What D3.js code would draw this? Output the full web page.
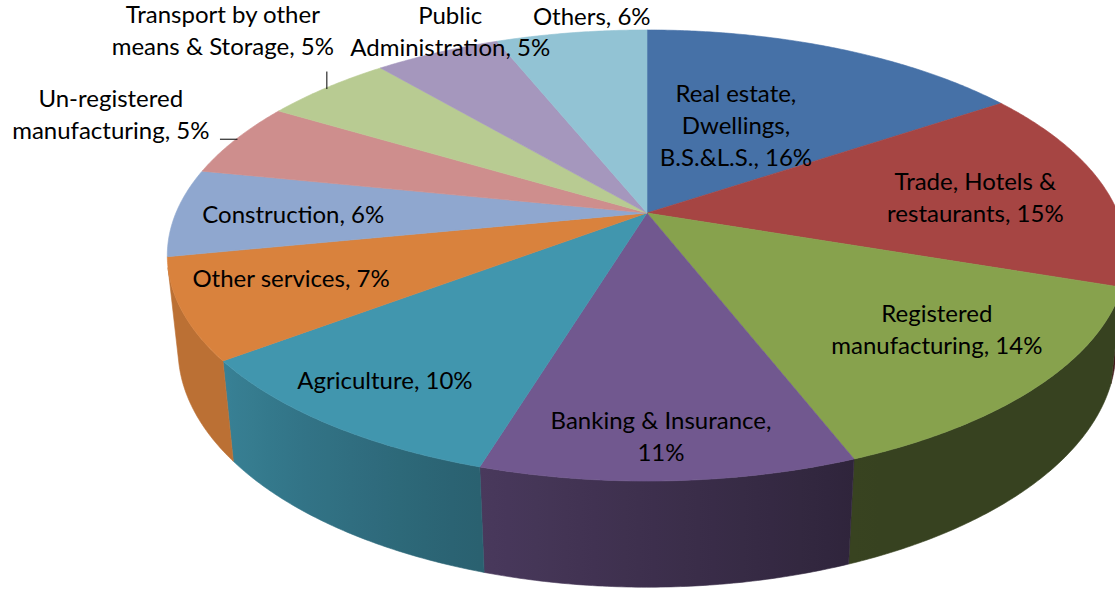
<!DOCTYPE html>
<html>
<head>
<meta charset="utf-8">
<script src="https://cdn.jsdelivr.net/npm/d3@7"></script>
<style>
  html, body { margin: 0; padding: 0; background: #ffffff; }
  svg { display: block; }
</style>
</head>
<body>
<svg id="chart" width="1115" height="591"></svg>
<script>
// GDP composition by sector (share of total, %)
const categories = [
  "Real estate, Dwellings, B.S.&L.S.",
  "Trade, Hotels & restaurants",
  "Registered manufacturing",
  "Banking & Insurance",
  "Agriculture",
  "Other services",
  "Construction",
  "Un-registered manufacturing",
  "Transport by other means & Storage",
  "Public Administration",
  "Others"
];
const shares = [15.6, 14.6, 13.9, 10.6, 10.0, 7.2, 6.3, 5.4, 5.2, 5.1, 6.1];

// label text, one entry per line; the share is appended to the last line
const labelLines = [
  ["Real estate,", "Dwellings,", "B.S.&L.S.,"],
  ["Trade, Hotels &", "restaurants,"],
  ["Registered", "manufacturing,"],
  ["Banking & Insurance,", ""],
  ["Agriculture,"],
  ["Other services,"],
  ["Construction,"],
  ["Un-registered", "manufacturing,"],
  ["Transport by other", "means & Storage,"],
  ["Public", "Administration,"],
  ["Others,"]
];

const topColors = ["#4671A7", "#A64543", "#87A24D", "#71588F", "#4196AE", "#D9823D",
                   "#8FA7CF", "#CE8E8D", "#B8CB92", "#A597BD", "#92C3D4"];

// label placement on the pie plane: radius (1 = rim) and angular nudge (deg)
const labelPlacement = [
  [0.48, -2.9], [0.71, 1.8], [0.74, -2.8], [0.86, 0.5], [0.83, 0.9], [0.77, 2.3],
  [0.75, -0.7], [1.34, 0.5], [1.46, 2.6], [1.11, 4.6], [1.10, 3.6]
];
// leader lines: slice index, offset of the outer end from the rim (px)
const leaders = [[7, -16, 0], [8, 0, -16]];

// ---- perspective view of a flat cylinder ----
const view = { cx: 647, cy: 213, f: 2217, D: 4.706, tilt: 27.5 * Math.PI / 180, h: 0.226 };
const sT = Math.sin(view.tilt), cT = Math.cos(view.tilt);

// theta: radians clockwise from 12 o'clock, r: radius (unit pie), y: height (0 top, -h bottom)
function project(theta, r, y) {
  const px = r * Math.sin(theta), pz = r * Math.cos(theta);
  const depth = view.D - y * sT + pz * cT;
  const w = y * cT + pz * sT;
  return [view.cx + view.f * px / depth, view.cy - view.f * w / depth];
}

// the outer wall faces the viewer where cos(theta) < -1/(D cos tilt)
const wallFrom = Math.acos(-1 / (view.D * cT));
const wallTo = 2 * Math.PI - wallFrom;

// wall brightness relative to the top face, by angle (deg)
const wallShade = d3.scaleLinear().domain([158, 233]).range([0.41, 0.86]).clamp(true);
function shade(hex, k) {
  const c = d3.rgb(hex);
  return d3.rgb(c.r * k, c.g * k, c.b * k).formatHex();
}

const svg = d3.select("#chart");
const defs = svg.append("defs");
const pie = d3.pie().sort(null).value(d => d);
const arcs = pie(shares);
const fmt = v => Math.round(v) + "%";
const line = d3.line();

function sampleAngles(a, b, stepDeg) {
  const n = Math.max(2, Math.ceil(Math.abs(b - a) / (stepDeg * Math.PI / 180)) + 1);
  return d3.range(n).map(i => a + (b - a) * i / (n - 1));
}

// side walls
const wallLayer = svg.append("g");
arcs.forEach((a, i) => {
  const t0 = Math.max(a.startAngle, wallFrom);
  const t1 = Math.min(a.endAngle, wallTo);
  if (t1 <= t0) return;
  const ts = sampleAngles(t0, t1, 0.5);
  const topPts = ts.map(t => project(t, 1, 0));
  const botPts = ts.slice().reverse().map(t => project(t, 1, -view.h));
  const x1 = topPts[0][0], x2 = topPts[topPts.length - 1][0];
  const g = defs.append("linearGradient")
    .attr("id", "wall" + i)
    .attr("gradientUnits", "userSpaceOnUse")
    .attr("x1", x1).attr("y1", 0).attr("x2", x2).attr("y2", 0);
  sampleAngles(t0, t1, 3).forEach(t => {
    const x = project(t, 1, 0)[0];
    g.append("stop")
      .attr("offset", x2 === x1 ? 0 : (x - x1) / (x2 - x1))
      .attr("stop-color", shade(topColors[i], wallShade(t * 180 / Math.PI)));
  });
  wallLayer.append("path")
    .attr("d", line(topPts.concat(botPts)) + "Z")
    .attr("fill", `url(#wall${i})`)
    .attr("stroke", `url(#wall${i})`)
    .attr("stroke-width", 0.6)
    .attr("stroke-linejoin", "round");
});

// top faces
const topLayer = svg.append("g");
const centre = project(0, 0, 0);
arcs.forEach((a, i) => {
  const pts = [centre].concat(sampleAngles(a.startAngle, a.endAngle, 0.5).map(t => project(t, 1, 0)));
  topLayer.append("path")
    .attr("d", line(pts) + "Z")
    .attr("fill", topColors[i])
    .attr("stroke", topColors[i])
    .attr("stroke-width", 0.6)
    .attr("stroke-linejoin", "round");
});

// leader lines
const leaderLayer = svg.append("g");
leaders.forEach(([i, dx, dy]) => {
  const a = arcs[i];
  const mid = (a.startAngle + a.endAngle) / 2;
  const p = project(mid, 1, 0);
  leaderLayer.append("line")
    .attr("x1", p[0] - Math.sign(dx) * 1.5).attr("y1", p[1] - Math.sign(dy) * 1.5)
    .attr("x2", p[0] + dx).attr("y2", p[1] + dy)
    .attr("stroke", "#000").attr("stroke-width", 1);
});

// data labels
const lineHeight = 32;
const labelLayer = svg.append("g")
  .attr("font-family", "Lato, 'Open Sans', sans-serif")
  .attr("font-size", 24)
  .attr("fill", "#000")
  .attr("text-anchor", "middle");
arcs.forEach((a, i) => {
  const mid = (a.startAngle + a.endAngle) / 2;
  const [r, nudge] = labelPlacement[i];
  const [lx, ly] = project(mid + nudge * Math.PI / 180, r, 0);
  const lines = labelLines[i].slice();
  const last = lines.length - 1;
  lines[last] = (lines[last] ? lines[last] + " " : "") + fmt(a.data);
  const text = labelLayer.append("text");
  lines.forEach((s, k) => {
    text.append("tspan")
      .attr("x", lx)
      .attr("y", ly + 8.6 + (k - (lines.length - 1) / 2) * lineHeight)
      .text(s);
  });
});
</script>
</body>
</html>
